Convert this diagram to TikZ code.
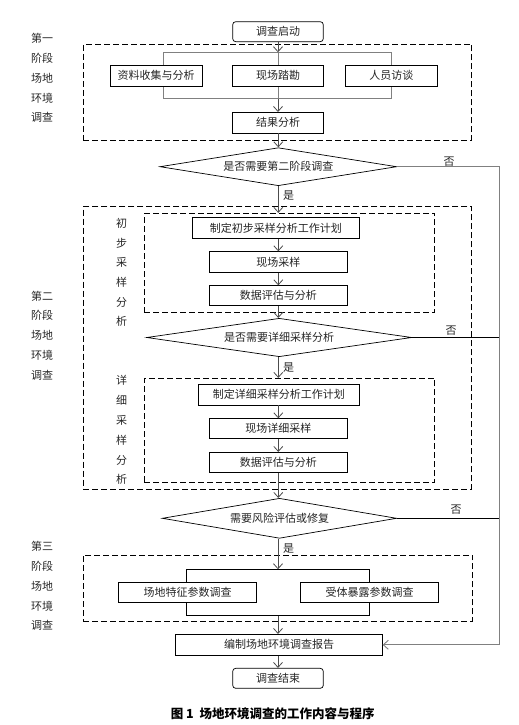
\documentclass[tikz,border=0pt]{standalone}
\usepackage{fontspec}
\setmainfont{Noto Sans CJK SC}
\usetikzlibrary{shapes.geometric,arrows.meta}
\begin{document}
\begin{tikzpicture}[x=1pt,y=-1pt,
  every node/.style={font=\fontsize{11}{12}\selectfont,text=black!85},
  box/.style={draw,fill=white,inner sep=0pt,line width=0.7pt},
  rbox/.style={box,rounded corners=3pt},
  dbox/.style={draw,dash pattern=on 6pt off 3pt,line width=0.8pt,inner sep=0pt},
  dia/.style={draw,fill=white,shape=diamond,inner sep=0pt,line width=0.7pt},
  slabel/.style={align=center,font=\fontsize{11}{19.8}\selectfont},
  arr/.style={draw=black!70,line width=0.8pt,-{Straight Barb[length=5pt,width=9pt]}},
  gline/.style={draw=black!50,line width=0.9pt},
  bline/.style={draw=black,line width=0.7pt},
  lbl/.style={font=\fontsize{11}{12}\selectfont}
]
\useasboundingbox (0,0) rectangle (519,725);

% coordinates for brackets and return line
\coordinate (b1tl) at (163.3,52.3);
\coordinate (b1tm) at (278,52.3);
\coordinate (b1tr) at (391,52.3);
\coordinate (b1bl) at (163.3,98.7);
\coordinate (b1bm) at (278,98.7);
\coordinate (b1br) at (391,98.7);
\coordinate (b3tl) at (186,569.3);
\coordinate (b3tm) at (278,569.3);
\coordinate (b3tr) at (369.3,569.3);
\coordinate (b3bl) at (186,615.7);
\coordinate (b3bm) at (278,615.7);
\coordinate (b3br) at (369.3,615.7);
\coordinate (R1) at (499,166.7);
\coordinate (R2) at (499,644.8);

% dashed stage boxes
\node[dbox,minimum width=388.4pt,minimum height=95.7pt] (ph1) at (277.5,92.2) {};
\node[dbox,minimum width=388.4pt,minimum height=282.3pt] (ph2) at (277.5,347.8) {};
\node[dbox,minimum width=290.4pt,minimum height=99.4pt] (in1) at (289.5,263) {};
\node[dbox,minimum width=290.4pt,minimum height=104.4pt] (in2) at (289.5,430.5) {};
\node[dbox,minimum width=389.4pt,minimum height=66pt] (ph3) at (278,588) {};

% brackets
\draw[gline] (b1bl) -- (b1tl) -- (b1tr) -- (b1br) -- (b1bl);
\draw[gline] (b1tm) -- (b1bm);
\draw[bline] (b3bl) -- (b3tl) -- (b3tr) -- (b3br) -- (b3bl);

% stage labels
\node[slabel] (s1) at (42,78) {第一\\阶段\\场地\\环境\\调查};
\node[slabel] (s2) at (42,335.5) {第二\\阶段\\场地\\环境\\调查};
\node[slabel] (s3) at (42,586) {第三\\阶段\\场地\\环境\\调查};
\node[slabel,font=\fontsize{11}{19.7}\selectfont] (i1) at (121.7,272.5) {初\\步\\采\\样\\分\\析};
\node[slabel,font=\fontsize{11}{19.9}\selectfont] (i2) at (121.7,430) {详\\细\\采\\样\\分\\析};

% nodes
\node[rbox,minimum width=90.6pt,minimum height=20pt] (start) at (278,31.7) {调查启动};
\node[box,minimum width=92.3pt,minimum height=20.7pt] (zl) at (156.2,75.7) {资料收集与分析};
\node[box,minimum width=91pt,minimum height=20.7pt] (xc) at (278,75.7) {现场踏勘};
\node[box,minimum width=92pt,minimum height=20.7pt] (ry) at (391.3,75.7) {人员访谈};
\node[box,minimum width=91pt,minimum height=20.7pt] (jg) at (278,122.7) {结果分析};
\node[dia,shape aspect=6.2,minimum width=236.7pt,minimum height=38pt] (d1) at (278.3,166.7) {是否需要第二阶段调查};

\node[box,minimum width=167pt,minimum height=20.6pt] (p1) at (275.8,228) {制定初步采样分析工作计划};
\node[box,minimum width=138pt,minimum height=20.6pt] (p2) at (278.3,262) {现场采样};
\node[box,minimum width=138pt,minimum height=20pt] (p3) at (278.3,295.7) {数据评估与分析};
\node[dia,shape aspect=6.9,minimum width=265pt,minimum height=38.4pt] (d2) at (279.2,337.5) {是否需要详细采样分析};

\node[box,minimum width=161pt,minimum height=20.7pt] (q1) at (278.8,394.7) {制定详细采样分析工作计划};
\node[box,minimum width=138pt,minimum height=19.6pt] (q2) at (278.3,428.5) {现场详细采样};
\node[box,minimum width=138pt,minimum height=20pt] (q3) at (278.3,462.3) {数据评估与分析};
\node[dia,shape aspect=5.9,minimum width=234.4pt,minimum height=40pt] (d3) at (279.5,518.3) {需要风险评估或修复};

\node[box,minimum width=138.4pt,minimum height=20pt] (r1) at (187.5,592.7) {场地特征参数调查};
\node[box,minimum width=138pt,minimum height=20pt] (r2) at (369.7,592.7) {受体暴露参数调查};
\node[box,minimum width=206.6pt,minimum height=21pt] (rep) at (279,644.8) {编制场地环境调查报告};
\node[rbox,minimum width=90.6pt,minimum height=20pt] (fin) at (278,678.3) {调查结束};

% labels
\node[lbl] (no1) at (449,161.7) {否};
\node[lbl] (no2) at (451,331) {否};
\node[lbl] (no3) at (456,510) {否};
\node[lbl] (yes1) at (288.7,195.7) {是};
\node[lbl] (yes2) at (288.7,367.3) {是};
\node[lbl] (yes3) at (288.7,549) {是};

% connectors
\draw[arr] (start.south -| b1tm) -- (b1tm);
\draw[arr] (b1bm) -- (b1bm |- jg.north);
\draw[arr] (jg.south -| d1.north) -- (d1.north);
\draw[arr] (d1.south) -- (d1.south |- in1.north);
\draw[arr] (p1.south -| p2.north) -- (p2.north);
\draw[arr] (p2.south) -- (p3.north);
\draw[arr] (p3.south) -- (p3.south |- d2.north);
\draw[arr] (d2.south -| p3.south) -- (p3.south |- in2.north);
\draw[arr] (q1.south -| q2.north) -- (q2.north);
\draw[arr] (q2.south) -- (q3.north);
\draw[arr] (q3.south) -- (q3.south |- d3.north);
\draw[arr] (d3.south -| b3tm) -- (b3tm);
\draw[arr] (b3bm) -- (b3bm |- rep.north);
\draw[arr] (rep.south -| fin.north) -- (fin.north);

\draw[gline,-{Straight Barb[length=5pt,width=9pt]}] (d1.east) -- (R1) -- (R2) -- (rep.east);
\draw[bline] (d2.east) -- (d2.east -| R1);
\draw[bline] (d3.east) -- (d3.east -| R1);

% caption
\node[font=\fontsize{12.5}{14}\selectfont\bfseries,text=black] (cap) at (272.7,713.3) {图 1\ \ 场地环境调查的工作内容与程序};
\end{tikzpicture}
\end{document}
